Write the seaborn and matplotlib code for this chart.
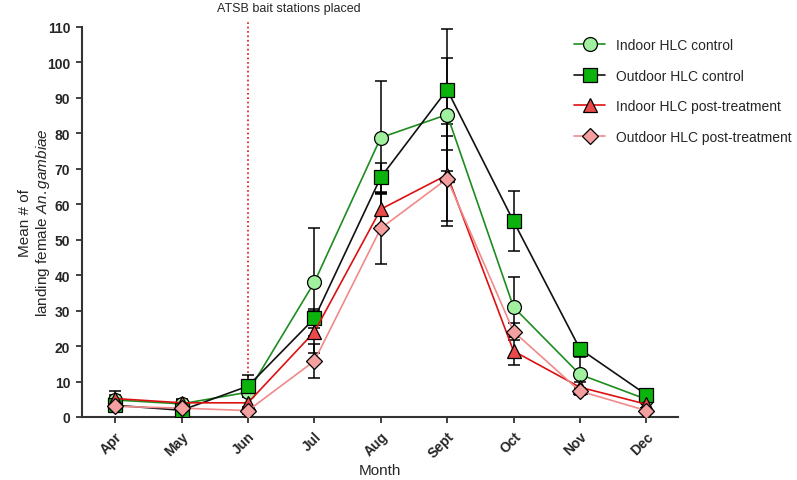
import pandas as pd
import seaborn as sns
import matplotlib
matplotlib.use("Agg")
from matplotlib import pyplot as plt

# monthly means and SEM
months = ["Apr", "May", "Jun", "Jul", "Aug", "Sept", "Oct", "Nov", "Dec"]
indoor_ctrl = [4.8, 3.7, 7.0, 38.0, 78.8, 85.3, 31.0, 12.0, 5.0]
indoor_ctrl_err = [1.5, 1.0, 1.5, 15.2, 16.0, 16.0, 8.4, 4.8, 1.0]
outdoor_ctrl = [3.3, 1.9, 8.7, 27.8, 67.6, 92.3, 55.2, 19.2, 6.3]
outdoor_ctrl_err = [1.5, 1.0, 3.1, 2.6, 4.0, 17.0, 8.5, 1.5, 1.0]
indoor_post = [5.2, 4.0, 4.0, 24.0, 58.6, 68.3, 18.6, 8.4, 3.6]
indoor_post_err = [2.0, 1.0, 1.5, 6.0, 4.7, 14.3, 4.0, 1.5, 1.0]
outdoor_post = [3.0, 2.5, 1.8, 15.8, 53.2, 67.2, 24.1, 7.3, 1.8]
outdoor_post_err = [1.0, 0.8, 1.0, 4.8, 10.0, 12.0, 2.5, 1.0, 0.8]

treatment_month = "Jun"

sns.set_style("ticks")
plt.rcParams["font.family"] = ["Liberation Sans", "DejaVu Sans"]
plt.rcParams["mathtext.fontset"] = "custom"
plt.rcParams["mathtext.rm"] = "Liberation Sans"
plt.rcParams["mathtext.it"] = "Liberation Sans:italic"

fig = plt.figure(figsize=(7.97, 4.81), dpi=100)
ax = fig.add_axes([0.1029, 0.131, 0.748, 0.8108])

# (label, values, errors, line colour, face colour, marker, marker size)
series = [
    ("Indoor HLC control", indoor_ctrl, indoor_ctrl_err, "#1e8c1e", "#a0f0a0", "o", 10),
    ("Outdoor HLC control", outdoor_ctrl, outdoor_ctrl_err, "#111111", "#0cb30c", "s", 10),
    ("Indoor HLC post-treatment", indoor_post, indoor_post_err, "#dd1111", "#ec4a4a", "^", 10),
    ("Outdoor HLC post-treatment", outdoor_post, outdoor_post_err, "#f08a8a", "#f5a0a0", "D", 8),
]

# error bars first so markers sit on top
for label, vals, errs, lc, fc, mk, ms in series:
    ax.errorbar(months, vals, yerr=errs, fmt="none", ecolor="black",
                elinewidth=1.1, capsize=4.5, capthick=1.1, zorder=2)

for i, (label, vals, errs, lc, fc, mk, ms) in enumerate(series):
    df = pd.DataFrame({"Month": months, "value": vals})
    sns.lineplot(data=df, x="Month", y="value", sort=False, ax=ax,
                 color=lc, linewidth=1.2, marker=mk, markersize=ms,
                 markerfacecolor=fc, markeredgecolor="black",
                 markeredgewidth=0.9, label=label, zorder=3 + i)

# treatment start marker
ax.axvline(months.index(treatment_month), color="#dd1111", linestyle=":",
           linewidth=1.2, ymax=1.015, clip_on=False, zorder=1)
ax.annotate("ATSB bait stations placed", xy=(months.index(treatment_month), 110),
            xycoords="data", xytext=(29.5, 13.7), textcoords="offset points",
            ha="center", va="center", fontsize=9, annotation_clip=False)

ax.set_xlim(-0.5, 8.48)
ax.set_ylim(0, 110)
ax.set_yticks(range(0, 111, 10))

for s in ["top", "right"]:
    ax.spines[s].set_visible(False)
for s in ["left", "bottom"]:
    ax.spines[s].set_linewidth(1.5)
    ax.spines[s].set_color("#333333")
ax.tick_params(axis="both", length=4.5, width=1.3, color="#333333",
               labelsize=10, pad=4)
plt.setp(ax.get_xticklabels(), rotation=45, ha="right",
         rotation_mode="anchor", fontweight="bold")
plt.setp(ax.get_yticklabels(), fontweight="bold")

ax.set_xlabel("Month", fontsize=11)
ax.set_ylabel("Mean # of\nlanding female $\\it{An.gambiae}$", fontsize=11)
ax.xaxis.set_label_coords(0.5, -0.118)
ax.yaxis.set_label_coords(-0.05, 0.5)

ax.legend(loc="upper left", bbox_to_anchor=(0.705, 0.945),
          bbox_transform=fig.transFigure, frameon=False, fontsize=10,
          handlelength=2.2, labelspacing=1.2, handletextpad=0.8)

fig.savefig("out.png", dpi=100)
